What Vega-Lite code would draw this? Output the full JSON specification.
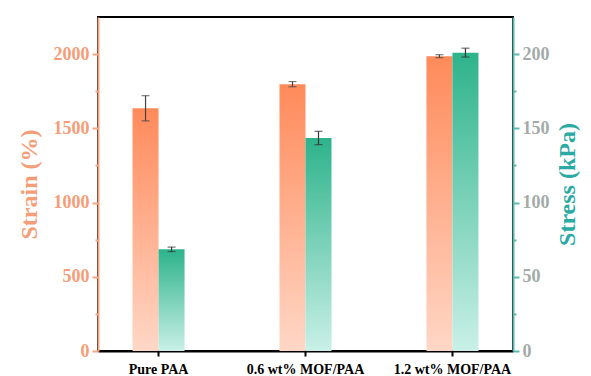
{
  "$schema": "https://vega.github.io/schema/vega-lite/v6.json",
  "autosize": "none",
  "width": 415,
  "height": 334,
  "padding": {"left": 98, "top": 17, "right": 78, "bottom": 25},
  "background": "white",
  "config": {
    "font": "Liberation Serif",
    "view": {"stroke": "black", "strokeWidth": 2}
  },
  "data": {
    "values": [
      {"group": "Pure PAA", "series": "Strain", "value": 1635, "lo": 1550, "hi": 1720},
      {"group": "0.6 wt% MOF/PAA", "series": "Strain", "value": 1797, "lo": 1780, "hi": 1815},
      {"group": "1.2 wt% MOF/PAA", "series": "Strain", "value": 1986, "lo": 1976, "hi": 1996},
      {"group": "Pure PAA", "series": "Stress", "value": 68.5, "lo": 67, "hi": 70},
      {"group": "0.6 wt% MOF/PAA", "series": "Stress", "value": 143.5, "lo": 139, "hi": 148},
      {"group": "1.2 wt% MOF/PAA", "series": "Stress", "value": 201, "lo": 198, "hi": 204}
    ]
  },
  "encoding": {
    "x": {
      "field": "group", "type": "nominal", "sort": null, "title": null,
      "scale": {"paddingInner": 0.646, "paddingOuter": 0.235},
      "axis": {"labelAngle": 0, "labelFontWeight": "bold", "labelFontSize": 14, "labelColor": "black",
               "domainColor": "black", "domainWidth": 2, "tickColor": "black", "tickWidth": 2, "tickSize": 5, "labelPadding": 6}
    },
    "xOffset": {"field": "series", "type": "nominal", "scale": {"domain": ["Strain", "Stress"], "paddingInner": 0, "paddingOuter": 0}}
  },
  "layer": [
    {
      "transform": [{"filter": "datum.series === 'Strain'"}],
      "layer": [
        {
          "mark": {"type": "bar", "color": {"gradient": "linear", "x1": 0, "y1": 0, "x2": 0, "y2": 1,
                    "stops": [{"offset": 0, "color": "#FF8A5A"}, {"offset": 1, "color": "#FFD7C6"}]}},
          "encoding": {
            "y": {"field": "value", "type": "quantitative", "scale": {"domain": [0, 2250], "nice": false},
                  "axis": {"orient": "left", "title": "Strain (%)", "values": [0, 250, 500, 750, 1000, 1250, 1500, 1750, 2000],
                           "labelExpr": "datum.value % 500 === 0 ? datum.value : ''",
                           "grid": false, "domainColor": "#F8A583", "domainWidth": 2,
                           "tickColor": "#F8A583", "tickWidth": 2,
                           "tickSize": {"condition": {"test": "datum.value % 500 === 0", "value": 6}, "value": 3},
                           "labelColor": "#F59D78", "labelFontSize": 18, "labelFontWeight": "bold", "labelPadding": 3,
                           "titleColor": "#F59D78", "titleFontSize": 24, "titleFontWeight": "bold", "titlePadding": 12}}
          }
        },
        {
          "mark": {"type": "rule", "color": "#444444", "strokeWidth": 1.2},
          "encoding": {"y": {"field": "lo", "type": "quantitative",
                  "axis": {"orient": "left", "title": "Strain (%)", "values": [0, 250, 500, 750, 1000, 1250, 1500, 1750, 2000],
                           "labelExpr": "datum.value % 500 === 0 ? datum.value : ''",
                           "grid": false, "domainColor": "#F8A583", "domainWidth": 2,
                           "tickColor": "#F8A583", "tickWidth": 2,
                           "tickSize": {"condition": {"test": "datum.value % 500 === 0", "value": 6}, "value": 3},
                           "labelColor": "#F59D78", "labelFontSize": 18, "labelFontWeight": "bold", "labelPadding": 3,
                           "titleColor": "#F59D78", "titleFontSize": 24, "titleFontWeight": "bold", "titlePadding": 12}},
                       "y2": {"field": "hi"}}
        },
        {
          "mark": {"type": "tick", "color": "#444444", "thickness": 1.2, "size": 8},
          "encoding": {"y": {"field": "lo", "type": "quantitative",
                  "axis": {"orient": "left", "title": "Strain (%)", "values": [0, 250, 500, 750, 1000, 1250, 1500, 1750, 2000],
                           "labelExpr": "datum.value % 500 === 0 ? datum.value : ''",
                           "grid": false, "domainColor": "#F8A583", "domainWidth": 2,
                           "tickColor": "#F8A583", "tickWidth": 2,
                           "tickSize": {"condition": {"test": "datum.value % 500 === 0", "value": 6}, "value": 3},
                           "labelColor": "#F59D78", "labelFontSize": 18, "labelFontWeight": "bold", "labelPadding": 3,
                           "titleColor": "#F59D78", "titleFontSize": 24, "titleFontWeight": "bold", "titlePadding": 12}}}
        },
        {
          "mark": {"type": "tick", "color": "#444444", "thickness": 1.2, "size": 8},
          "encoding": {"y": {"field": "hi", "type": "quantitative",
                  "axis": {"orient": "left", "title": "Strain (%)", "values": [0, 250, 500, 750, 1000, 1250, 1500, 1750, 2000],
                           "labelExpr": "datum.value % 500 === 0 ? datum.value : ''",
                           "grid": false, "domainColor": "#F8A583", "domainWidth": 2,
                           "tickColor": "#F8A583", "tickWidth": 2,
                           "tickSize": {"condition": {"test": "datum.value % 500 === 0", "value": 6}, "value": 3},
                           "labelColor": "#F59D78", "labelFontSize": 18, "labelFontWeight": "bold", "labelPadding": 3,
                           "titleColor": "#F59D78", "titleFontSize": 24, "titleFontWeight": "bold", "titlePadding": 12}}}
        }
      ]
    },
    {
      "transform": [{"filter": "datum.series === 'Stress'"}],
      "layer": [
        {
          "mark": {"type": "bar", "color": {"gradient": "linear", "x1": 0, "y1": 0, "x2": 0, "y2": 1,
                    "stops": [{"offset": 0, "color": "#2DB38B"}, {"offset": 1, "color": "#C9F0E7"}]}},
          "encoding": {
            "y": {"field": "value", "type": "quantitative", "scale": {"domain": [0, 225], "nice": false},
                  "axis": {"orient": "right", "title": "Stress (kPa)", "values": [0, 25, 50, 75, 100, 125, 150, 175, 200],
                           "labelExpr": "datum.value % 50 === 0 ? datum.value : ''",
                           "grid": false, "domainColor": "#5DB8AF", "domainWidth": 2,
                           "tickColor": "#5DB8AF", "tickWidth": 2,
                           "tickSize": {"condition": {"test": "datum.value % 50 === 0", "value": 6}, "value": 3},
                           "labelColor": "#A3ABA9", "labelFontSize": 18, "labelFontWeight": "bold", "labelPadding": 3,
                           "titleColor": "#2AAAA2", "titleFontSize": 24, "titleFontWeight": "bold", "titleAngle": 270, "titleBaseline": "top", "titlePadding": 6}}
          }
        },
        {
          "mark": {"type": "rule", "color": "#333333", "strokeWidth": 1.2},
          "encoding": {"y": {"field": "lo", "type": "quantitative",
                  "axis": {"orient": "right", "title": "Stress (kPa)", "values": [0, 25, 50, 75, 100, 125, 150, 175, 200],
                           "labelExpr": "datum.value % 50 === 0 ? datum.value : ''",
                           "grid": false, "domainColor": "#5DB8AF", "domainWidth": 2,
                           "tickColor": "#5DB8AF", "tickWidth": 2,
                           "tickSize": {"condition": {"test": "datum.value % 50 === 0", "value": 6}, "value": 3},
                           "labelColor": "#A3ABA9", "labelFontSize": 18, "labelFontWeight": "bold", "labelPadding": 3,
                           "titleColor": "#2AAAA2", "titleFontSize": 24, "titleFontWeight": "bold", "titleAngle": 270, "titleBaseline": "top", "titlePadding": 6}},
                       "y2": {"field": "hi"}}
        },
        {
          "mark": {"type": "tick", "color": "#333333", "thickness": 1.2, "size": 8},
          "encoding": {"y": {"field": "lo", "type": "quantitative",
                  "axis": {"orient": "right", "title": "Stress (kPa)", "values": [0, 25, 50, 75, 100, 125, 150, 175, 200],
                           "labelExpr": "datum.value % 50 === 0 ? datum.value : ''",
                           "grid": false, "domainColor": "#5DB8AF", "domainWidth": 2,
                           "tickColor": "#5DB8AF", "tickWidth": 2,
                           "tickSize": {"condition": {"test": "datum.value % 50 === 0", "value": 6}, "value": 3},
                           "labelColor": "#A3ABA9", "labelFontSize": 18, "labelFontWeight": "bold", "labelPadding": 3,
                           "titleColor": "#2AAAA2", "titleFontSize": 24, "titleFontWeight": "bold", "titleAngle": 270, "titleBaseline": "top", "titlePadding": 6}}}
        },
        {
          "mark": {"type": "tick", "color": "#333333", "thickness": 1.2, "size": 8},
          "encoding": {"y": {"field": "hi", "type": "quantitative",
                  "axis": {"orient": "right", "title": "Stress (kPa)", "values": [0, 25, 50, 75, 100, 125, 150, 175, 200],
                           "labelExpr": "datum.value % 50 === 0 ? datum.value : ''",
                           "grid": false, "domainColor": "#5DB8AF", "domainWidth": 2,
                           "tickColor": "#5DB8AF", "tickWidth": 2,
                           "tickSize": {"condition": {"test": "datum.value % 50 === 0", "value": 6}, "value": 3},
                           "labelColor": "#A3ABA9", "labelFontSize": 18, "labelFontWeight": "bold", "labelPadding": 3,
                           "titleColor": "#2AAAA2", "titleFontSize": 24, "titleFontWeight": "bold", "titleAngle": 270, "titleBaseline": "top", "titlePadding": 6}}}
        }
      ]
    }
  ],
  "resolve": {"scale": {"y": "independent"}, "axis": {"y": "independent"}}
}
